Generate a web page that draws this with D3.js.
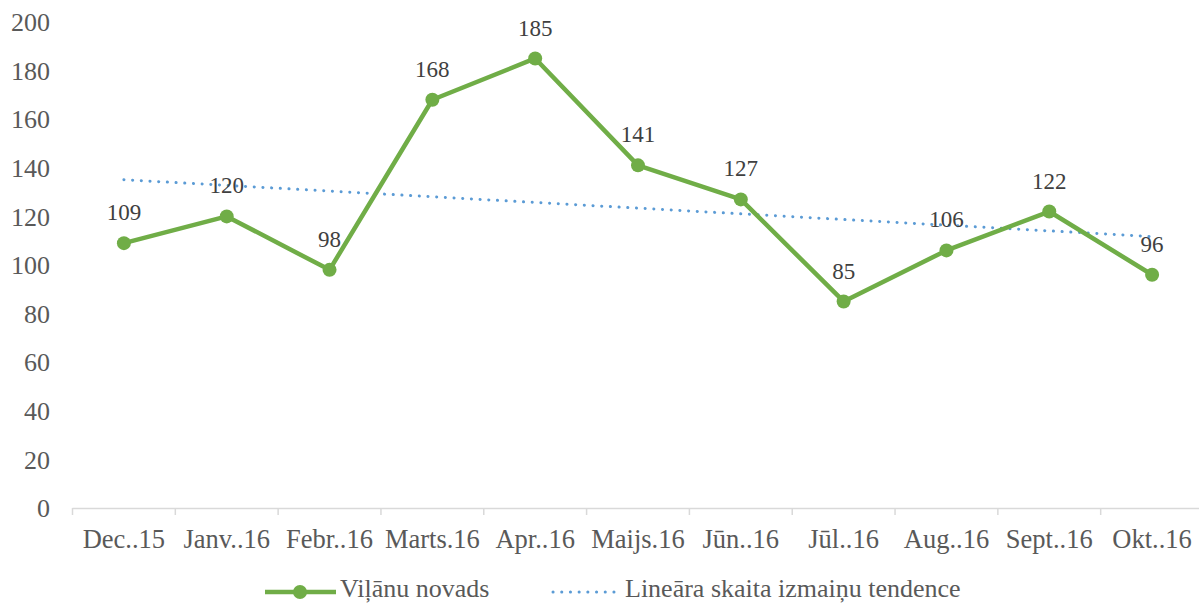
<!DOCTYPE html>
<html>
<head>
<meta charset="utf-8">
<script src="https://cdn.jsdelivr.net/npm/d3@7"></script>
<style>
  body { margin: 0; background: #fff; }
  svg, svg text { display: block; font-family: "Liberation Serif", "Times New Roman", serif; }
</style>
</head>
<body>
<div id="chart"></div>
<script>
// data
var months = ["Dec..15", "Janv..16", "Febr..16", "Marts.16", "Apr..16", "Maijs.16", "Jūn..16", "Jūl..16", "Aug..16", "Sept..16", "Okt..16"];
var values = [109, 120, 98, 168, 185, 141, 127, 85, 106, 122, 96];
var trendEnds = [135.1, 111.7];   // first / last month of the linear trend
var yTicks = [0, 20, 40, 60, 80, 100, 120, 140, 160, 180, 200];
var seriesName = "Viļānu novads";
var trendName = "Lineāra skaita izmaiņu tendence";

var W = 1199, H = 604;
var green = "#70AD47", blue = "#5B9BD5";
var font = "'Liberation Serif', 'Times New Roman', serif";

var svg = d3.select("#chart").append("svg")
  .attr("width", W).attr("height", H);

var x = d3.scaleBand().domain(months).range([72.5, 1203.5]);
var y = d3.scaleLinear().domain([0, 200]).range([508, 22]);
var cx = function (m) { return x(m) + x.bandwidth() / 2; };

// y tick labels (no axis line, no grid)
svg.append("g").selectAll("text")
  .data(yTicks).enter().append("text")
  .attr("x", 50).attr("y", function (d) { return y(d); })
  .attr("dy", "0.35em")
  .attr("text-anchor", "end")
  .style("font-family", font)
  .style("font-size", "26px").style("fill", "#595959")
  .text(function (d) { return d; });

// x axis
var xAxis = svg.append("g")
  .attr("transform", "translate(0," + y(0) + ")")
  .call(d3.axisBottom(x).tickSize(0).tickPadding(0));
xAxis.select(".domain").remove();
xAxis.selectAll(".tick text").remove();
xAxis.append("line").attr("x1", 72.5).attr("x2", W).attr("y1", 0.5).attr("y2", 0.5)
  .style("stroke", "#D9D9D9").style("stroke-width", 1.5);
xAxis.selectAll(".tickmark")
  .data(months).enter().append("line")
  .attr("x1", function (d) { return x(d); }).attr("x2", function (d) { return x(d); })
  .attr("y1", 0).attr("y2", 7)
  .style("stroke", "#D9D9D9").style("stroke-width", 1.5);
xAxis.selectAll(".lbl")
  .data(months).enter().append("text")
  .attr("x", cx).attr("y", 40)
  .attr("text-anchor", "middle")
  .style("font-family", font)
  .style("font-size", "26.5px").style("fill", "#595959")
  .text(function (d) { return d; });

// trend line
svg.append("line")
  .attr("x1", cx(months[0])).attr("y1", y(trendEnds[0]))
  .attr("x2", cx(months[months.length - 1])).attr("y2", y(trendEnds[1]))
  .style("stroke", blue).style("stroke-width", 3)
  .style("stroke-linecap", "round").style("stroke-dasharray", "0.1 8.6");

// series line
var line = d3.line()
  .x(function (d, i) { return cx(months[i]); })
  .y(function (d) { return y(d); });

svg.append("path")
  .attr("d", line(values))
  .style("fill", "none").style("stroke", green)
  .style("stroke-width", 4.5).style("stroke-linejoin", "round");

svg.append("g").selectAll("circle")
  .data(values).enter().append("circle")
  .attr("cx", function (d, i) { return cx(months[i]); })
  .attr("cy", function (d) { return y(d); })
  .attr("r", 7).style("fill", green);

svg.append("g").selectAll("text")
  .data(values).enter().append("text")
  .attr("x", function (d, i) { return cx(months[i]); })
  .attr("y", function (d) { return y(d) - 31; })
  .attr("dy", "0.35em")
  .attr("text-anchor", "middle")
  .style("font-family", font)
  .style("font-size", "23px").style("fill", "#404040")
  .text(function (d) { return d; });

// legend
var lg = svg.append("g").attr("transform", "translate(0,588)");
lg.append("line").attr("x1", 265).attr("x2", 336).attr("y1", 4).attr("y2", 4)
  .style("stroke", green).style("stroke-width", 4.5);
lg.append("circle").attr("cx", 300).attr("cy", 4).attr("r", 7).style("fill", green);
lg.append("text").attr("x", 340).attr("y", 0).attr("dy", "0.35em")
  .style("font-family", font)
  .style("font-size", "26px").style("fill", "#595959").text(seriesName);
lg.append("line").attr("x1", 553).attr("x2", 616).attr("y1", 4).attr("y2", 4)
  .style("stroke", blue).style("stroke-width", 3)
  .style("stroke-linecap", "round").style("stroke-dasharray", "0.1 8.6");
lg.append("text").attr("x", 625).attr("y", 0).attr("dy", "0.35em")
  .style("font-family", font)
  .style("font-size", "26px").style("fill", "#595959").text(trendName);
</script>
</body>
</html>
